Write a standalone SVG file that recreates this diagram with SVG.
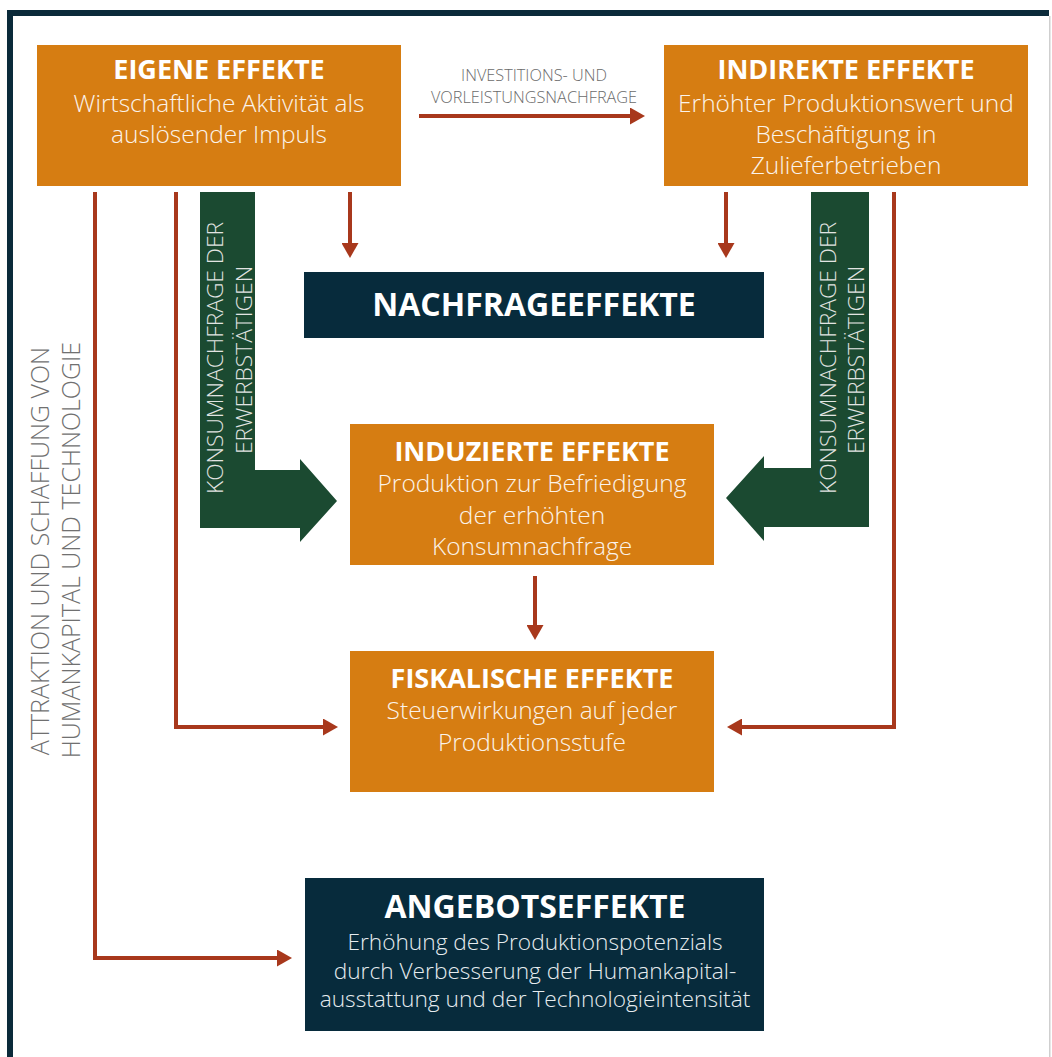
<svg xmlns="http://www.w3.org/2000/svg" width="1052" height="1057" viewBox="0 0 1052 1057">
<style>
.box{fill:#D67D12}
.dark{fill:#072B3C}
.green{fill:#1B4A31}
.t{font-family:"Open Sans","Liberation Sans",sans-serif;fill:#ffffff;text-anchor:middle}
.title{font-weight:700;font-size:27px}
.sub{font-size:24.5px;font-weight:350;fill:#FBF3EA}
.big{font-weight:700;font-size:32px}
.body{font-size:22.7px;font-weight:350;fill:#E6ECEF}
.lbl{font-family:"Open Sans","Liberation Sans",sans-serif;font-size:16.3px;font-weight:350;fill:#6B6B6B;text-anchor:middle}
.vg{font-family:"Open Sans","Liberation Sans",sans-serif;font-size:22.8px;font-weight:350;fill:#E2E4E2;text-anchor:middle}
.vgray{font-family:"Open Sans","Liberation Sans",sans-serif;font-size:25px;font-weight:350;fill:#707070;text-anchor:middle}
.con{fill:none;stroke:#A8381C;stroke-width:4}
</style>
<defs>
<marker id="ah" markerUnits="userSpaceOnUse" markerWidth="16" markerHeight="17" refX="3" refY="8.5" orient="auto">
<path d="M0,0 L15,8.5 L0,17 z" fill="#A8381C"/>
</marker>
</defs>
<rect x="0" y="0" width="1052" height="1057" fill="#ffffff"/>
<g id="frame">
<rect x="7" y="10" width="1042" height="6" fill="#0B2A3A"/>
<rect x="7" y="10" width="6" height="1047" fill="#0B2A3A"/>
<rect x="1049" y="16" width="1.5" height="1041" fill="#CFCFCF"/>
</g>
<g id="connectors">
<path class="con" d="M419,116 H633" marker-end="url(#ah)"/>
<path class="con" d="M350,192 V246" marker-end="url(#ah)"/>
<path class="con" d="M726,192 V246" marker-end="url(#ah)"/>
<path class="con" d="M176,192 V727 H326" marker-end="url(#ah)"/>
<path class="con" d="M894,192 V727 H739" marker-end="url(#ah)"/>
<path class="con" d="M95,192 V958 H280" marker-end="url(#ah)"/>
<path class="con" d="M535,576 V628" marker-end="url(#ah)"/>
<text class="lbl" x="534" y="81">INVESTITIONS- UND</text>
<text class="lbl" x="534" y="103">VORLEISTUNGSNACHFRAGE</text>
</g>
<g id="konsum-left">
<polygon class="green" points="200,192 255,192 255,470 300,470 300,459 337,501 300,542 300,528 200,528"/>
<text class="vg" transform="translate(223,358) rotate(-90)">KONSUMNACHFRAGE DER</text>
<text class="vg" transform="translate(252,360) rotate(-90)">ERWERBSTÄTIGEN</text>
</g>
<g id="konsum-right">
<polygon class="green" points="869,192 811,192 811,468 764,468 764,456 726,498 764,541 764,527 869,527"/>
<text class="vg" transform="translate(836,358) rotate(-90)">KONSUMNACHFRAGE DER</text>
<text class="vg" transform="translate(864,360) rotate(-90)">ERWERBSTÄTIGEN</text>
</g>
<g id="attraktion">
<text class="vgray" transform="translate(49,551) rotate(-90)">ATTRAKTION UND SCHAFFUNG VON</text>
<text class="vgray" transform="translate(80,550) rotate(-90)">HUMANKAPITAL UND TECHNOLOGIE</text>
</g>
<g id="eigene">
<rect class="box" x="37" y="45" width="364" height="141"/>
<text class="t title" x="219" y="79">EIGENE EFFEKTE</text>
<text class="t sub" x="219" y="112">Wirtschaftliche Aktivität als</text>
<text class="t sub" x="219" y="143">auslösender Impuls</text>
</g>
<g id="indirekte">
<rect class="box" x="664" y="45" width="364" height="141"/>
<text class="t title" x="846" y="79">INDIREKTE EFFEKTE</text>
<text class="t sub" x="846" y="112">Erhöhter Produktionswert und</text>
<text class="t sub" x="846" y="143">Beschäftigung in</text>
<text class="t sub" x="846" y="174">Zulieferbetrieben</text>
</g>
<g id="nachfrage">
<rect class="dark" x="304" y="272" width="460" height="66"/>
<text class="t big" x="534" y="316">NACHFRAGEEFFEKTE</text>
</g>
<g id="induzierte">
<rect class="box" x="350" y="424" width="364" height="141"/>
<text class="t title" x="532" y="461">INDUZIERTE EFFEKTE</text>
<text class="t sub" x="532" y="492">Produktion zur Befriedigung</text>
<text class="t sub" x="532" y="524">der erhöhten</text>
<text class="t sub" x="532" y="555">Konsumnachfrage</text>
</g>
<g id="fiskalische">
<rect class="box" x="350" y="651" width="364" height="141"/>
<text class="t title" x="532" y="688">FISKALISCHE EFFEKTE</text>
<text class="t sub" x="532" y="719">Steuerwirkungen auf jeder</text>
<text class="t sub" x="532" y="751">Produktionsstufe</text>
</g>
<g id="angebot">
<rect class="dark" x="305" y="878" width="459" height="153"/>
<text class="t big" x="535" y="918">ANGEBOTSEFFEKTE</text>
<text class="t body" x="535" y="950">Erhöhung des Produktionspotenzials</text>
<text class="t body" x="535" y="979">durch Verbesserung der Humankapital-</text>
<text class="t body" x="535" y="1007">ausstattung und der Technologieintensität</text>
</g>
</svg>
